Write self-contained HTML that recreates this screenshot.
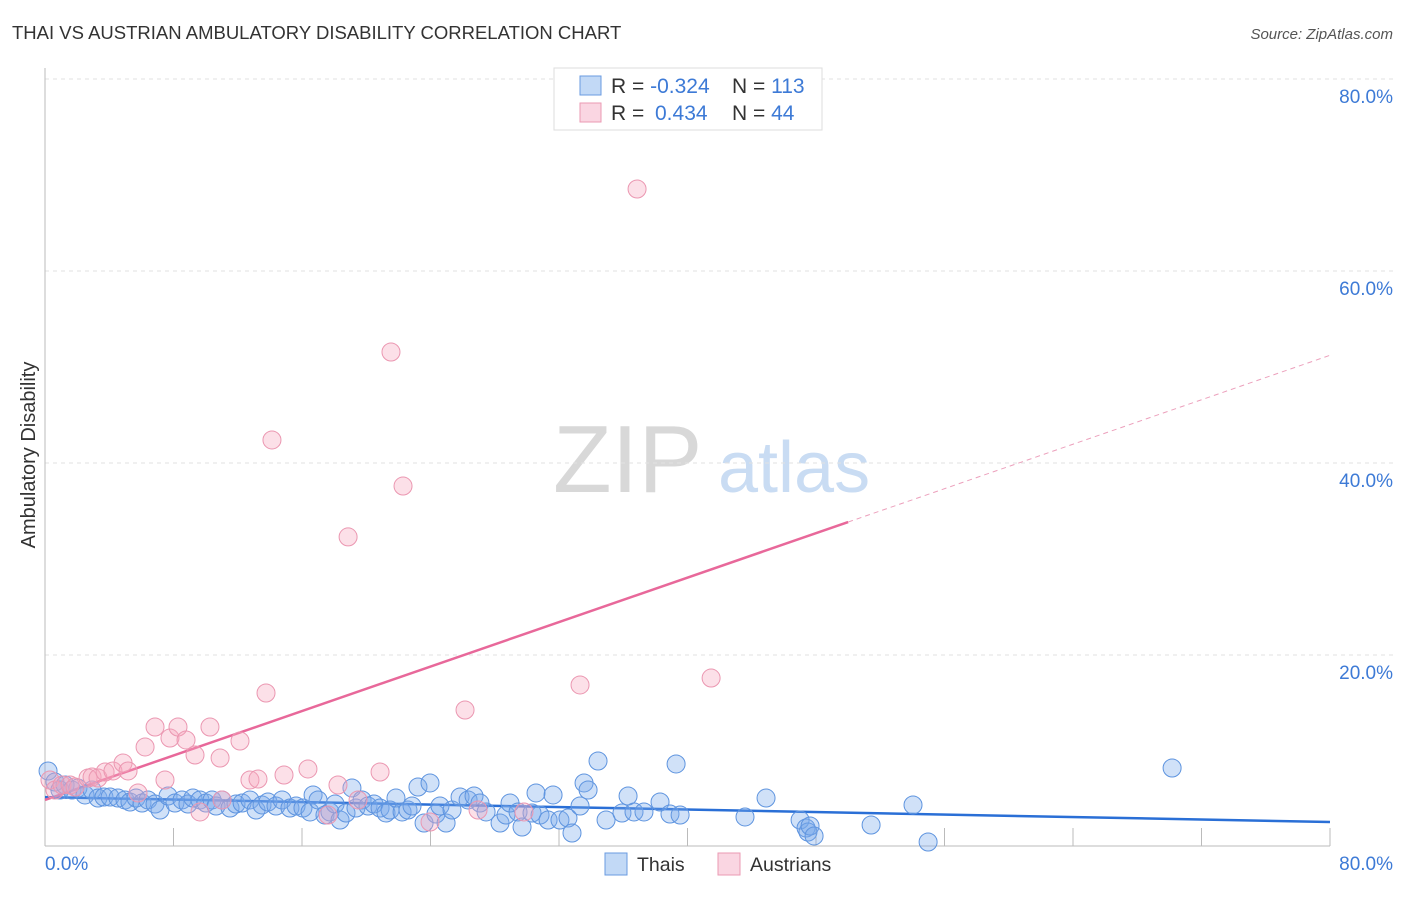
<!DOCTYPE html>
<html><head><meta charset="utf-8"><style>
body{margin:0;background:#fff;width:1406px;height:892px;overflow:hidden;font-family:"Liberation Sans",sans-serif}
svg text{font-family:"Liberation Sans",sans-serif}
</style></head><body>
<svg id="chart" width="1406" height="892">
<text x="12" y="39" font-size="18.5" fill="#333">THAI VS AUSTRIAN AMBULATORY DISABILITY CORRELATION CHART</text>
<text x="1393" y="39" font-size="15" fill="#555" font-style="italic" text-anchor="end">Source: ZipAtlas.com</text>
<g>
<text x="553" y="492" font-size="96" fill="#d8d8d8" font-family="Liberation Serif">ZIP</text>
<text x="718" y="492" font-size="72" fill="#c9dcf3">atlas</text>
</g>
<g id="grid"></g><g id="axes"></g><g id="trends"></g><g id="pts"></g>
<text transform="translate(35,455) rotate(-90)" font-size="20" fill="#333" text-anchor="middle">Ambulatory Disability</text>
<g>
<rect x="554" y="68" width="268" height="62" fill="#fff" stroke="#ddd"/>
<rect x="580" y="76" width="21" height="19" fill="rgba(120,170,235,0.45)" stroke="#6a9be0"/>
<rect x="580" y="103" width="21" height="19" fill="rgba(245,165,190,0.45)" stroke="#eb9ab3"/>
<text x="611" y="93" font-size="21" fill="#333">R = <tspan fill="#3d7ad6">-0.324</tspan><tspan x="732">N = </tspan><tspan fill="#3d7ad6">113</tspan></text>
<text x="611" y="120" font-size="21" fill="#333">R = <tspan x="655" fill="#3d7ad6">0.434</tspan><tspan x="732">N = </tspan><tspan fill="#3d7ad6">44</tspan></text>
</g>
<g>
<rect x="605" y="853" width="22" height="22" fill="rgba(120,170,235,0.45)" stroke="#6a9be0"/>
<text x="637" y="871" font-size="19.5" fill="#333">Thais</text>
<rect x="718" y="853" width="22" height="22" fill="rgba(245,165,190,0.45)" stroke="#eb9ab3"/>
<text x="750" y="871" font-size="19.5" fill="#333">Austrians</text>
</g>
</svg>
<script>
const yTicks=[20,40,60,80];
const yTickLabels=["20.0%","40.0%","60.0%","80.0%"];
const xTicks=[8,16,24,32,40,48,56,64,72,80];
const xEndLabels=["0.0%","80.0%"];
const thaisX=[0.19,0.62,0.93,1.25,1.68,2.05,2.49,2.93,3.3,3.67,4.05,4.54,4.98,5.29,5.67,6.04,6.41,6.85,7.16,7.66,8.09,8.53,8.9,9.21,9.65,10.02,10.4,10.65,11.02,11.52,11.89,12.27,12.76,13.14,13.51,13.88,14.38,14.76,15.25,15.63,16.06,16.5,16.69,17.0,17.43,17.74,18.06,18.37,18.74,19.11,19.36,19.74,20.11,20.48,20.86,21.23,21.48,21.85,22.23,22.6,22.85,23.22,23.6,23.97,24.34,24.59,24.97,25.34,25.84,26.34,26.71,27.08,27.46,28.33,28.7,28.95,29.45,29.7,30.32,30.57,30.82,31.32,31.63,32.06,32.56,32.81,33.31,33.56,33.81,34.43,34.93,35.92,36.3,36.67,37.29,38.29,38.91,39.29,39.54,43.58,44.89,47.01,47.38,47.5,47.63,47.88,51.43,54.04,54.98,70.17];
const thaisY=[7.92,6.77,5.94,6.46,5.94,6.15,5.42,5.94,5.1,5.21,5.21,5.1,4.9,4.69,5.1,4.58,4.9,4.48,3.85,5.31,4.58,4.9,4.48,5.1,4.9,4.58,4.9,4.27,4.9,4.06,4.48,4.58,4.9,3.85,4.38,4.69,4.27,4.9,4.06,4.27,4.06,3.65,5.42,4.9,3.33,3.65,4.48,2.81,3.54,6.15,4.06,4.9,4.27,4.48,4.06,3.54,3.85,5.1,3.65,3.85,4.27,6.25,2.5,6.67,3.44,4.27,2.5,3.85,5.21,4.9,5.31,4.58,3.65,2.5,3.33,4.58,3.65,2.08,3.54,5.63,3.33,2.81,5.42,2.81,3.02,1.46,4.27,6.67,5.94,8.96,2.81,3.54,5.31,3.65,3.65,4.69,3.44,8.65,3.33,3.13,5.1,2.81,1.98,1.56,2.19,1.15,2.29,4.38,0.52,8.23];
const austX=[0.31,0.62,1.06,1.56,1.87,2.68,2.93,3.3,3.74,4.23,4.86,5.17,5.79,6.23,6.85,7.47,7.78,8.28,8.78,9.34,9.65,10.27,10.9,11.02,12.14,12.76,13.26,13.76,14.13,14.88,16.37,17.62,18.24,18.87,19.49,20.86,21.54,22.29,23.97,26.15,26.96,29.82,33.31,36.86,41.47];
const austY=[6.98,5.94,6.46,6.46,6.25,7.19,7.29,7.19,7.81,7.92,8.75,7.92,5.63,10.42,12.5,6.98,11.35,12.5,11.15,9.58,3.65,12.5,9.27,4.9,11.04,6.98,7.08,16.04,42.4,7.5,8.13,3.33,6.46,32.3,4.9,7.81,51.56,37.6,2.6,14.27,3.85,3.65,16.88,68.54,17.6];
const thaiTrend=[5.2,-0.0325];
const austTrend=[4.9,0.579];
const austSolidEnd=50;
const NS="http://www.w3.org/2000/svg";
const X=v=>45+v/80*1285, Y=v=>847-v/20*192;
function mk(tag,attrs,parent){const e=document.createElementNS(NS,tag);for(const k in attrs)e.setAttribute(k,attrs[k]);document.getElementById(parent).appendChild(e);return e;}
yTicks.forEach((t,i)=>{
 const g=mk('line',{x1:45,x2:1393,y1:Y(t),y2:Y(t),stroke:'#e2e2e2','stroke-dasharray':'4,4'},'grid');
 
 
 const l=mk('text',{x:1393,y:Y(t)+24,'font-size':19,fill:'#3d7ad6','text-anchor':'end'},'grid');
 l.textContent=yTickLabels[i];
 
 
});
const ya=mk('line',{x1:45,x2:45,y1:68,y2:846,stroke:'#bbb'},'axes');


const xa=mk('line',{x1:45,x2:1330,y1:846,y2:846,stroke:'#bbb'},'axes');


xTicks.forEach(t=>{
 const k=mk('line',{x1:X(t),x2:X(t),y1:828,y2:846,stroke:'#bbb'},'axes');
 
 
});
const xl0=mk('text',{x:45,y:870,'font-size':19,fill:'#3d7ad6'},'axes');xl0.textContent=xEndLabels[0];


const xl1=mk('text',{x:1393,y:870,'font-size':19,fill:'#3d7ad6','text-anchor':'end'},'axes');xl1.textContent=xEndLabels[1];


thaisX.forEach((v,i)=>{
 const c=mk('circle',{cx:X(v),cy:Y(thaisY[i]),r:9,fill:'rgba(120,170,235,0.35)',stroke:'#5e94df','stroke-width':1},'pts');
 
 
});
austX.forEach((v,i)=>{
 const c=mk('circle',{cx:X(v),cy:Y(austY[i]),r:9,fill:'rgba(245,165,190,0.35)',stroke:'#eb97b1','stroke-width':1},'pts');
 
 
});
const tl=mk('line',{x1:X(0),y1:Y(thaiTrend[0]),x2:X(80),y2:Y(thaiTrend[0]+thaiTrend[1]*80),stroke:'#2a6fd6','stroke-width':2.5},'trends');


const al=mk('line',{x1:X(0),y1:Y(austTrend[0]),x2:X(austSolidEnd),y2:Y(austTrend[0]+austTrend[1]*austSolidEnd),stroke:'#e8689a','stroke-width':2.5},'trends');


const ad=mk('line',{x1:X(austSolidEnd),y1:Y(austTrend[0]+austTrend[1]*austSolidEnd),x2:X(80),y2:Y(austTrend[0]+austTrend[1]*80),stroke:'#eca0bc','stroke-width':1,'stroke-dasharray':'5,4'},'trends');


</script>
</body></html>
